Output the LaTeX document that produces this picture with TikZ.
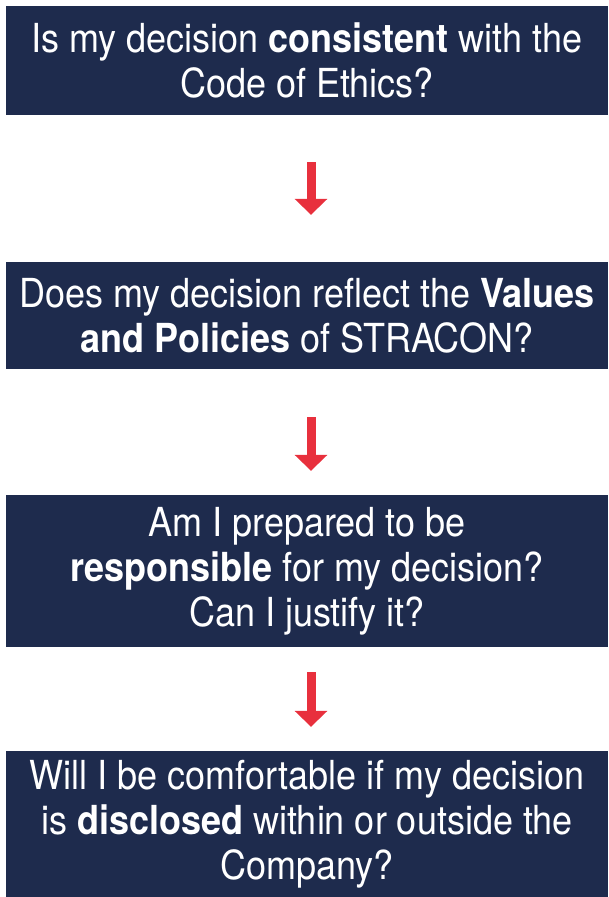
\documentclass[tikz,border=0pt]{standalone}
\usepackage{fontspec}
\setmainfont{TeX Gyre Heros}[FakeStretch=0.9]
\usepackage{tikz}
\usetikzlibrary{arrows.meta}
\definecolor{stranavy}{HTML}{1E2B4D}
\definecolor{strared}{HTML}{E8303D}
\tikzset{
	question/.style={fill=stranavy, text=white, minimum width=602pt, inner sep=0pt,
		align=center, font=\fontsize{40}{45}\selectfont},
	downarrow/.style 2 args={draw=strared, line width=9pt, shorten <=#1, shorten >=#2,
		-{Triangle[width=32pt,length=16pt]}}
}

\begin{document}
\begin{tikzpicture}[x=1pt, y=1pt]

				\useasboundingbox (0,0) rectangle (608,-897);

				\node[question, minimum height=109pt] (ethics) at (307,-60.5)
					{Is my decision \textbf{consistent} with the\\Code of Ethics?};
				\node[question, minimum height=107pt] (values) at (307,-315.5)
					{Does my decision reflect the \textbf{Values}\\\textbf{and Policies} of STRACON?};
				\node[question, minimum height=152pt] (responsible) at (307,-571)
					{Am I prepared to be\\\textbf{responsible} for my decision?\\Can I justify it?};
				\node[question, minimum height=146pt] (disclosed) at (307,-824)
					{Will I be comfortable if my decision\\is \textbf{disclosed} within or outside the\\Company?};

				\draw[downarrow={47pt}{47pt}] ([xshift=4pt]ethics.south) -- ([xshift=4pt]values.north);
				\draw[downarrow={48pt}{24pt}] ([xshift=4pt]values.south) -- ([xshift=4pt]responsible.north);
				\draw[downarrow={25pt}{24pt}] ([xshift=4pt]responsible.south) -- ([xshift=4pt]disclosed.north);

\end{tikzpicture}
\end{document}
